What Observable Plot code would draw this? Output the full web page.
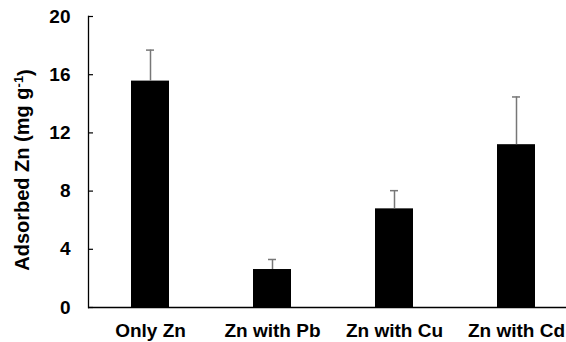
<!DOCTYPE html>
<html>
<head>
<meta charset="utf-8">
<script src="https://cdn.jsdelivr.net/npm/d3@7"></script>
<script src="https://cdn.jsdelivr.net/npm/@observablehq/plot@0.6"></script>
<style>
  html, body { margin: 0; padding: 0; background: white; overflow: hidden; }
</style>
</head>
<body>
<div id="chart"></div>
<script>
const categories = ["Only Zn", "Zn with Pb", "Zn with Cu", "Zn with Cd"];
const means = [15.56, 2.61, 6.78, 11.19];
const errors = [2.13, 0.69, 1.25, 3.28];
const yTicks = [0, 4, 8, 12, 16, 20];

const data = categories.map((c, i) => ({cat: c, mean: means[i], err: errors[i]}));

const W = 566, H = 342, ML = 88, MR = 0;
const chart = Plot.plot({
  width: W,
  height: H,
  marginLeft: ML,
  marginRight: MR,
  marginTop: 16,
  marginBottom: 35,
  style: {fontFamily: "'Liberation Sans', Arial, sans-serif", fontWeight: "bold", background: "white", color: "black"},
  x: {domain: categories, range: [87.5, 577.5], paddingInner: 0.69, paddingOuter: 0.345, label: null},
  y: {domain: [0, 20], label: null},
  marks: [
    Plot.barY(data, {x: "cat", y: "mean", fill: "black"}),
    Plot.ruleX(data, {x: "cat", y1: "mean", y2: d => d.mean + d.err, stroke: "#777", strokeWidth: 1.5}),
    Plot.tickY(data, {x: "cat", y: d => d.mean + d.err, stroke: "#777", strokeWidth: 1.5, inset: 15}),
    Plot.axisX({tickSize: 0, tickPadding: 16, fontSize: 19, label: null}),
    Plot.axisY({ticks: yTicks, tickSize: 0, tickPadding: 18, fontSize: 19, label: null}),
    Plot.tickY(yTicks, {y: d => d, stroke: "black", strokeWidth: 1.2, insetRight: (W - ML - MR) - 5}),
    Plot.frame({anchor: "left", stroke: "black", strokeWidth: 1.3}),
    Plot.ruleY([0], {stroke: "black", strokeWidth: 1.3})
  ]
});
document.getElementById("chart").appendChild(chart);

const label = d3.select(chart).append("text")
  .attr("transform", "translate(29,170) rotate(-90)")
  .attr("text-anchor", "middle")
  .attr("fill", "black")
  .style("font-family", "'Liberation Sans', Arial, sans-serif")
  .style("font-weight", "bold")
  .style("font-size", "20px");
label.append("tspan").text("Adsorbed Zn (mg g");
label.append("tspan").attr("dy", "-0.45em").style("font-size", "13px").text("-1");
label.append("tspan").attr("dy", "0.45em").text(")");
</script>
</body>
</html>
